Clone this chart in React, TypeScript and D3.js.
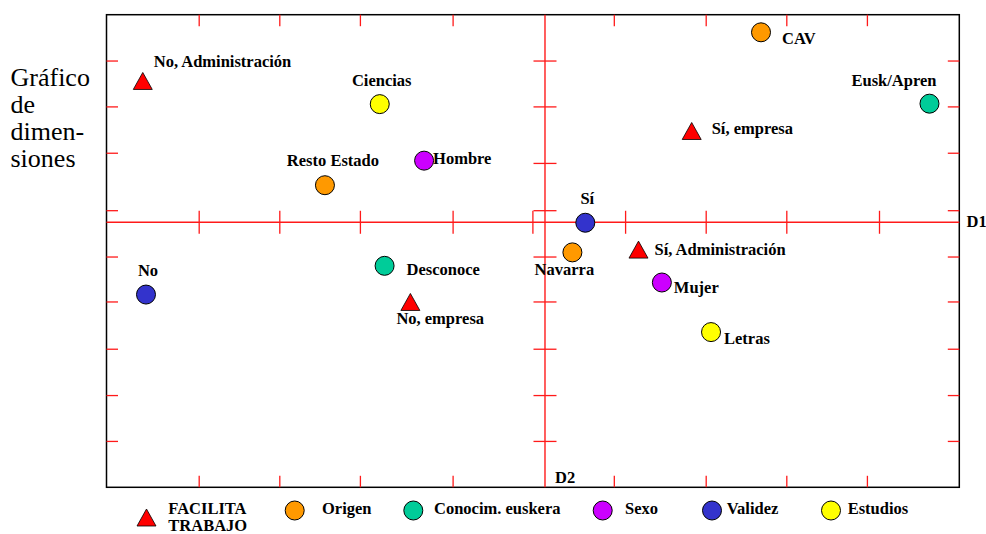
import React from "react";
import * as d3 from "d3";

// ---- Data (dimension scores D1, D2) ----
const groupNames = ["FACILITA TRABAJO", "Origen", "Conocim. euskera", "Sexo", "Validez", "Estudios"];
const groupColors = ["#ff0000", "#ff9900", "#00cc99", "#cc00ff", "#3333cc", "#ffff00"];

const facilitaTrabajo = [
  { label: "No, Administración", d1: -4.99, d2: 3.05 },
  { label: "Sí, empresa", d1: 1.82, d2: 1.97 },
  { label: "Sí, Administración", d1: 1.16, d2: -0.59 },
  { label: "No, empresa", d1: -1.67, d2: -1.72 },
];
const origen = [
  { label: "CAV", d1: 2.68, d2: 4.1 },
  { label: "Resto Estado", d1: -2.73, d2: 0.8 },
  { label: "Navarra", d1: 0.34, d2: -0.65 },
];
const conocimEuskera = [
  { label: "Eusk/Apren", d1: 4.77, d2: 2.56 },
  { label: "Desconoce", d1: -1.99, d2: -0.94 },
];
const sexo = [
  { label: "Hombre", d1: -1.5, d2: 1.33 },
  { label: "Mujer", d1: 1.45, d2: -1.3 },
];
const validez = [
  { label: "Sí", d1: 0.5, d2: -0.01 },
  { label: "No", d1: -4.95, d2: -1.56 },
];
const estudios = [
  { label: "Ciencias", d1: -2.05, d2: 2.55 },
  { label: "Letras", d1: 2.06, d2: -2.37 },
];
const series = [facilitaTrabajo, origen, conocimEuskera, sexo, validez, estudios];

// tick marks (in dimension units)
const xEdgeTicks = [-4.29, -3.29, -2.29, -1.14, 0.86, 2.0, 3.0, 4.0];
const xAxisTicks = [-4.29, -3.29, -2.29, -1.14, -0.15, 1.0, 2.0, 3.0, 4.15];
const yEdgeTicks = [3.48, 2.49, 1.49, 0.25, -0.75, -1.72, -2.74, -3.74, -4.73];
const yAxisTicks = [3.48, 2.49, 1.27, 0.25, -0.75, -1.72, -2.74, -3.74, -4.73];

const titleLines = ["Gráfico", "de", "dimen-", "siones"];

// ---- Label placement (offsets relative to marker) ----
const labelPlacement: Record<string, { dx: number; dy: number; anchor: string }> = {
  "No, Administración": { dx: 11, dy: -14, anchor: "start" },
  "Sí, empresa": { dx: 20, dy: 3, anchor: "start" },
  "Sí, Administración": { dx: 16, dy: 5.5, anchor: "start" },
  "No, empresa": { dx: -14, dy: 22, anchor: "start" },
  CAV: { dx: 21, dy: 12, anchor: "start" },
  "Resto Estado": { dx: 8, dy: -19, anchor: "middle" },
  Navarra: { dx: -8, dy: 23, anchor: "middle" },
  "Eusk/Apren": { dx: 7, dy: -18, anchor: "end" },
  Desconoce: { dx: 22, dy: 9, anchor: "start" },
  Hombre: { dx: 9, dy: 3.5, anchor: "start" },
  Mujer: { dx: 12, dy: 10.6, anchor: "start" },
  "Sí": { dx: 2, dy: -19, anchor: "middle" },
  No: { dx: 2, dy: -19, anchor: "middle" },
  Ciencias: { dx: 2, dy: -18, anchor: "middle" },
  Letras: { dx: 13, dy: 12, anchor: "start" },
};

const W = 986;
const H = 534;
const plot = { left: 106.5, right: 959.3, top: 14.7, bottom: 487.3 };
const legendLayout = [
  { mx: 146.5, tx: 168.3 },
  { mx: 294.7, tx: 322 },
  { mx: 413.3, tx: 434 },
  { mx: 602.7, tx: 625 },
  { mx: 712, tx: 726.7 },
  { mx: 831, tx: 847.7 },
];

const FONT = "'Liberation Serif', 'Times New Roman', serif";
const labelStyle: React.CSSProperties = { fontFamily: FONT, fontSize: 16.5, fontWeight: "bold" };
const titleStyle: React.CSSProperties = { fontFamily: FONT, fontSize: 26, fontWeight: "normal" };
const RED = "#ff1a1a";
const R = 9.5;
const TRI_W = 19;
const TRI_H = 17;

function triPath(cx: number, cy: number) {
  return `M${cx},${cy - TRI_H / 2} L${cx + TRI_W / 2},${cy + TRI_H / 2} L${cx - TRI_W / 2},${cy + TRI_H / 2} Z`;
}

export default function App() {
  const x = d3.scaleLinear().domain([-5.44, 5.14]).range([plot.left, plot.right]);
  const y = d3.scaleLinear().domain([-5.72, 4.48]).range([plot.bottom, plot.top]);
  const x0 = x(0);
  const y0 = y(0);
  const tl = 11.5;

  return (
    <svg width={W} height={H} style={{ position: "absolute", left: 0, top: 0, background: "#fff" }}>
      {/* title */}
      <text x={10.5} y={86} fill="#000" style={titleStyle}>
        {titleLines.map((t, i) => (
          <tspan key={t} x={10.5} dy={i === 0 ? 0 : 27}>
            {t}
          </tspan>
        ))}
      </text>

      {/* frame */}
      <rect x={plot.left} y={plot.top} width={plot.right - plot.left} height={plot.bottom - plot.top} fill="none" stroke="#000" strokeWidth={1.5} />

      {/* axes */}
      <line x1={plot.left} x2={plot.right} y1={y0} y2={y0} stroke={RED} strokeWidth={1.4} />
      <line x1={x0} x2={x0} y1={plot.top} y2={plot.bottom} stroke={RED} strokeWidth={1.4} />

      {/* ticks */}
      <g stroke={RED} strokeWidth={1.3}>
        {xEdgeTicks.map((v, i) => (
          <g key={"xe" + i}>
            <line x1={x(v)} x2={x(v)} y1={plot.top} y2={plot.top + tl} />
            <line x1={x(v)} x2={x(v)} y1={plot.bottom} y2={plot.bottom - tl} />
          </g>
        ))}
        {xAxisTicks.map((v, i) => (
          <line key={"xa" + i} x1={x(v)} x2={x(v)} y1={y0 - tl} y2={y0 + tl} />
        ))}
        {yEdgeTicks.map((v, i) => (
          <g key={"ye" + i}>
            <line x1={plot.left} x2={plot.left + tl} y1={y(v)} y2={y(v)} />
            <line x1={plot.right} x2={plot.right - tl} y1={y(v)} y2={y(v)} />
          </g>
        ))}
        {yAxisTicks.map((v, i) => (
          <line key={"ya" + i} x1={x0 - tl} x2={x0 + tl} y1={y(v)} y2={y(v)} />
        ))}
      </g>

      {/* axis names */}
      <text x={966.5} y={227} fill="#000" style={labelStyle}>D1</text>
      <text x={555} y={482.5} fill="#000" style={labelStyle}>D2</text>

      {/* points */}
      {series.map((pts, gi) => (
        <g key={"s" + gi}>
          {pts.map((p) => {
            const cx = x(p.d1);
            const cy = y(p.d2);
            const lp = labelPlacement[p.label] || { dx: 12, dy: 5, anchor: "start" };
            return (
              <g key={p.label}>
                {gi === 0 ? (
                  <path d={triPath(cx, cy)} fill={groupColors[gi]} stroke="#000" strokeWidth={0.8} />
                ) : (
                  <circle cx={cx} cy={cy} r={R} fill={groupColors[gi]} stroke="#000" strokeWidth={1} />
                )}
                <text x={cx + lp.dx} y={cy + lp.dy} textAnchor={lp.anchor} fill="#000" style={labelStyle}>
                  {p.label}
                </text>
              </g>
            );
          })}
        </g>
      ))}

      {/* legend */}
      {groupNames.map((name, gi) => {
        const L = legendLayout[gi];
        if (gi === 0) {
          const words = name.split(" ");
          return (
            <g key={name}>
              <path d={triPath(L.mx, 517.5)} fill={groupColors[gi]} stroke="#000" strokeWidth={0.8} />
              <text x={L.tx} y={513.5} fill="#000" style={labelStyle}>
                {words.map((w, wi) => (
                  <tspan key={w} x={L.tx} dy={wi === 0 ? 0 : 17}>
                    {w}
                  </tspan>
                ))}
              </text>
            </g>
          );
        }
        return (
          <g key={name}>
            <circle cx={L.mx} cy={510.5} r={R} fill={groupColors[gi]} stroke="#000" strokeWidth={1} />
            <text x={L.tx} y={514} fill="#000" style={labelStyle}>
              {name}
            </text>
          </g>
        );
      })}
    </svg>
  );
}
